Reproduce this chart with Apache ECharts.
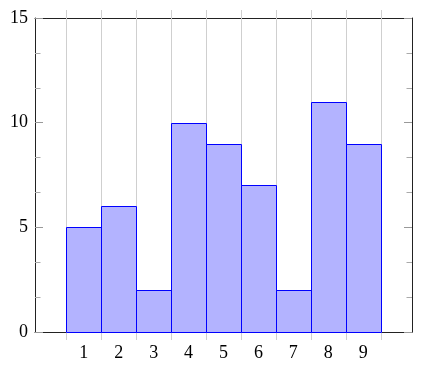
<!DOCTYPE html>
<html>
<head>
<meta charset="utf-8">
<script src="https://cdn.jsdelivr.net/npm/echarts@6/dist/echarts.min.js"></script>
<style>html,body{margin:0;padding:0;background:#fff}#c{width:423px;height:372px}</style>
</head>
<body>
<div id="c"></div>
<script>
const categories = [1, 2, 3, 4, 5, 6, 7, 8, 9];
const values = [5, 6, 2, 10, 9, 7, 2, 11, 9];
const yTicks = [0, 5, 10, 15];

const edges = categories.map(c => c - 0.5).concat([categories[categories.length - 1] + 0.5]);
const FONT = "'Liberation Serif', 'DejaVu Serif', serif";

const chart = echarts.init(document.getElementById('c'), null, {renderer: 'canvas'});
chart.setOption({
  animation: false,
  grid: {left: 35, right: 11, top: 18, bottom: 40},
  xAxis: [{
    type: 'value', min: -0.4, max: 10.4, position: 'bottom',
    axisLine: {show: true, onZero: false, lineStyle: {color: '#222', width: 1}},
    axisTick: {show: false},
    splitLine: {show: false},
    axisLabel: {customValues: categories, color: '#000', fontFamily: FONT, fontSize: 18, margin: 12}
  }, {
    type: 'value', min: -0.4, max: 10.4, position: 'top',
    axisLine: {show: true, onZero: false, lineStyle: {color: '#222', width: 1}},
    axisTick: {show: false}, splitLine: {show: false}, axisLabel: {show: false}
  }],
  yAxis: [{
    type: 'value', min: 0, max: 15, interval: 5, position: 'left',
    axisLine: {show: true, onZero: false, lineStyle: {color: '#222', width: 1}},
    axisTick: {show: true, inside: true, length: 8, lineStyle: {color: '#999'}},
    minorTick: {show: true, splitNumber: 3, length: 5.5, lineStyle: {color: '#aaa'}},
    splitLine: {show: false},
    axisLabel: {color: '#000', fontFamily: FONT, fontSize: 18, margin: 7,
      formatter: v => yTicks.includes(v) ? String(v) : ''}
  }, {
    type: 'value', min: 0, max: 15, interval: 5, position: 'right',
    axisLine: {show: true, onZero: false, lineStyle: {color: '#222', width: 1}},
    axisTick: {show: true, inside: true, length: 8, lineStyle: {color: '#999'}},
    minorTick: {show: true, splitNumber: 3, length: 5.5, lineStyle: {color: '#aaa'}},
    splitLine: {show: false}, axisLabel: {show: false}
  }],
  series: [{
    type: 'custom', xAxisIndex: 0, yAxisIndex: 0, clip: false, z: 1, silent: true,
    data: edges.map(e => [e]),
    renderItem: function (params, api) {
      const e = api.value(0);
      const top = api.coord([e, 15]);
      const bot = api.coord([e, 0]);
      const x = Math.round(top[0]) + 0.5;
      return {type: 'line', shape: {x1: x, y1: top[1] - 8, x2: x, y2: bot[1] + 8},
        style: {stroke: '#cfcfcf', lineWidth: 1}};
    }
  }, {
    type: 'custom', xAxisIndex: 0, yAxisIndex: 0, z: 2,
    data: categories.map((c, i) => [c, values[i]]),
    renderItem: function (params, api) {
      const c = api.value(0), v = api.value(1);
      const p0 = api.coord([c - 0.5, 0]);
      const p1 = api.coord([c + 0.5, v]);
      const x0 = Math.round(p0[0]) + 0.5, x1 = Math.round(p1[0]) + 0.5;
      const y0 = Math.round(p0[1]) + 0.5, y1 = Math.round(p1[1]) + 0.5;
      return {type: 'rect', shape: {x: x0, y: y1, width: x1 - x0, height: y0 - y1},
        style: {fill: '#b3b3ff', stroke: '#0000ff', lineWidth: 1}};
    }
  }]
});
</script>
</body>
</html>
